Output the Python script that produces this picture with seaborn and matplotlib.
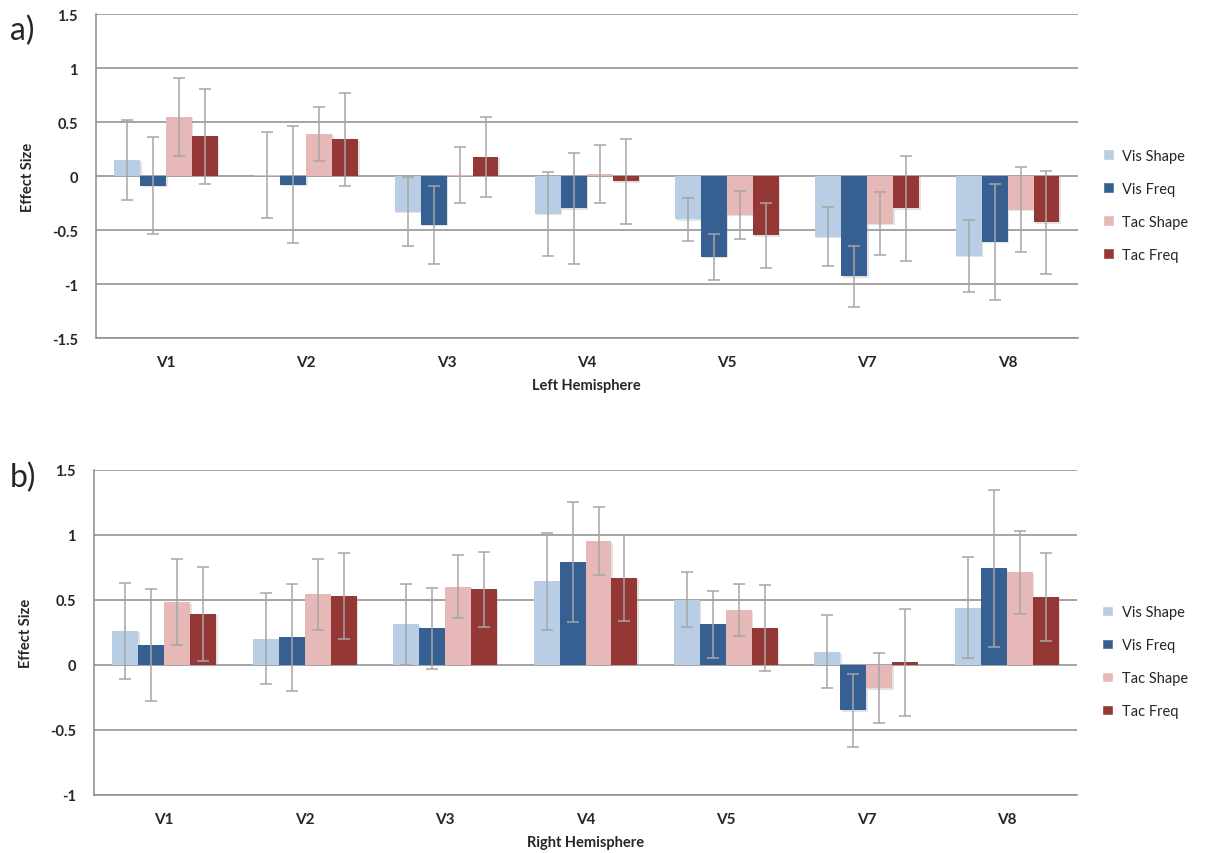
import matplotlib
matplotlib.use("Agg")
import matplotlib.pyplot as plt
import matplotlib.patheffects as pe
import numpy as np
import pandas as pd
import seaborn as sns

regions = ["V1", "V2", "V3", "V4", "V5", "V7", "V8"]
series = ["Vis Shape", "Vis Freq", "Tac Shape", "Tac Freq"]
colors = ["#B9CDE5", "#376092", "#E6B9B8", "#953735"]

# Left hemisphere effect sizes and error half-widths
left_vis_shape = [0.15, 0.01, -0.33, -0.35, -0.40, -0.56, -0.74]
left_vis_freq = [-0.09, -0.08, -0.45, -0.30, -0.75, -0.93, -0.61]
left_tac_shape = [0.55, 0.39, 0.01, 0.02, -0.36, -0.44, -0.31]
left_tac_freq = [0.37, 0.34, 0.18, -0.05, -0.55, -0.30, -0.43]
left_vis_shape_err = [0.37, 0.40, 0.32, 0.39, 0.20, 0.27, 0.33]
left_vis_freq_err = [0.45, 0.54, 0.36, 0.51, 0.21, 0.28, 0.54]
left_tac_shape_err = [0.36, 0.25, 0.26, 0.27, 0.22, 0.29, 0.39]
left_tac_freq_err = [0.44, 0.43, 0.37, 0.39, 0.30, 0.49, 0.48]

# Right hemisphere effect sizes and error half-widths
right_vis_shape = [0.26, 0.20, 0.31, 0.64, 0.50, 0.10, 0.44]
right_vis_freq = [0.15, 0.21, 0.28, 0.79, 0.31, -0.35, 0.74]
right_tac_shape = [0.48, 0.54, 0.60, 0.95, 0.42, -0.18, 0.71]
right_tac_freq = [0.39, 0.53, 0.58, 0.67, 0.28, 0.02, 0.52]
right_vis_shape_err = [0.37, 0.35, 0.31, 0.37, 0.21, 0.28, 0.39]
right_vis_freq_err = [0.43, 0.41, 0.31, 0.46, 0.26, 0.28, 0.60]
right_tac_shape_err = [0.33, 0.27, 0.24, 0.26, 0.20, 0.27, 0.32]
right_tac_freq_err = [0.36, 0.33, 0.29, 0.33, 0.33, 0.41, 0.34]

sns.set_theme(style="white")
plt.rcParams["font.family"] = ["Lato", "DejaVu Sans"]

FONT = ["Lato", "DejaVu Sans"]


def long_frame(vals, errs):
    rows = []
    for name, v, e in zip(series, vals, errs):
        for r, val, err in zip(regions, v, e):
            rows.append({"Region": r, "Series": name, "Value": val, "Err": err})
    return pd.DataFrame(rows)


def draw_panel(ax, df, ylim, yticks, xlabel):
    ax.set_axisbelow(True)
    for y in yticks:
        ax.axhline(y, color="#8C8C8C", lw=1.1, zorder=0)
    sns.barplot(data=df, x="Region", y="Value", hue="Series", hue_order=series,
                palette=colors, order=regions, errorbar=None, width=0.74,
                saturation=1, ax=ax, zorder=2, legend=True)
    shadow = [pe.SimplePatchShadow(offset=(1.0, -1.0), shadow_rgbFace="#A0A0A0", alpha=0.3),
              pe.Normal()]
    for name, cont in zip(series, ax.containers):
        sub = df[df["Series"] == name].set_index("Region").loc[regions]
        xs, ys = [], []
        for bar, val in zip(cont, sub["Value"]):
            bar.set_path_effects(shadow)
            bar.set_edgecolor("none")
            xs.append(bar.get_x() + bar.get_width() / 2)
            ys.append(val)
        ax.errorbar(xs, ys, yerr=sub["Err"].values, fmt="none", ecolor="#A6A6A6",
                    elinewidth=1.1, capsize=4, capthick=1.1, zorder=3)
    ax.set_ylim(*ylim)
    ax.set_yticks(yticks)
    ax.set_yticklabels([f"{t:g}" for t in yticks], fontweight="bold", fontsize=10.5, family=FONT)
    ax.set_xlim(-0.5, len(regions) - 0.5)
    ax.tick_params(axis="x", length=0, pad=12)
    ax.tick_params(axis="y", length=5, width=1, color="#8C8C8C", direction="out", pad=8)
    for lab in ax.get_xticklabels():
        lab.set_fontweight("bold")
        lab.set_fontsize(11)
    for s in ["top", "right"]:
        ax.spines[s].set_visible(False)
    for s in ["left", "bottom"]:
        ax.spines[s].set_color("#8C8C8C")
        ax.spines[s].set_linewidth(1.1)
    ax.set_xlabel(xlabel, fontweight="bold", fontsize=10.5, labelpad=7)
    ax.set_ylabel("Effect Size", fontweight="bold", fontsize=10.5, labelpad=12)
    handles, labels = ax.get_legend_handles_labels()
    ax.legend(handles, labels, loc="center left", bbox_to_anchor=(1.012, 0.41),
              frameon=False, fontsize=10.5, handlelength=0.75, handleheight=0.75,
              handletextpad=0.6, labelspacing=1.3)


fig = plt.figure(figsize=(12.06, 8.54), dpi=100)
ax1 = fig.add_axes([0.0796, 0.603, 0.814, 0.3794])
ax2 = fig.add_axes([0.078, 0.068, 0.815, 0.381])

df_left = long_frame([left_vis_shape, left_vis_freq, left_tac_shape, left_tac_freq],
                     [left_vis_shape_err, left_vis_freq_err, left_tac_shape_err, left_tac_freq_err])
df_right = long_frame([right_vis_shape, right_vis_freq, right_tac_shape, right_tac_freq],
                      [right_vis_shape_err, right_vis_freq_err, right_tac_shape_err, right_tac_freq_err])

draw_panel(ax1, df_left, (-1.5, 1.5), [-1.5, -1, -0.5, 0, 0.5, 1, 1.5], "Left Hemisphere")
draw_panel(ax2, df_right, (-1, 1.5), [-1, -0.5, 0, 0.5, 1, 1.5], "Right Hemisphere")

fig.text(0.008, 0.964, "a)", fontsize=23, ha="left", va="center")
fig.text(0.008, 0.44, "b)", fontsize=23, ha="left", va="center")

fig.savefig("out.png", dpi=100, facecolor="white")
